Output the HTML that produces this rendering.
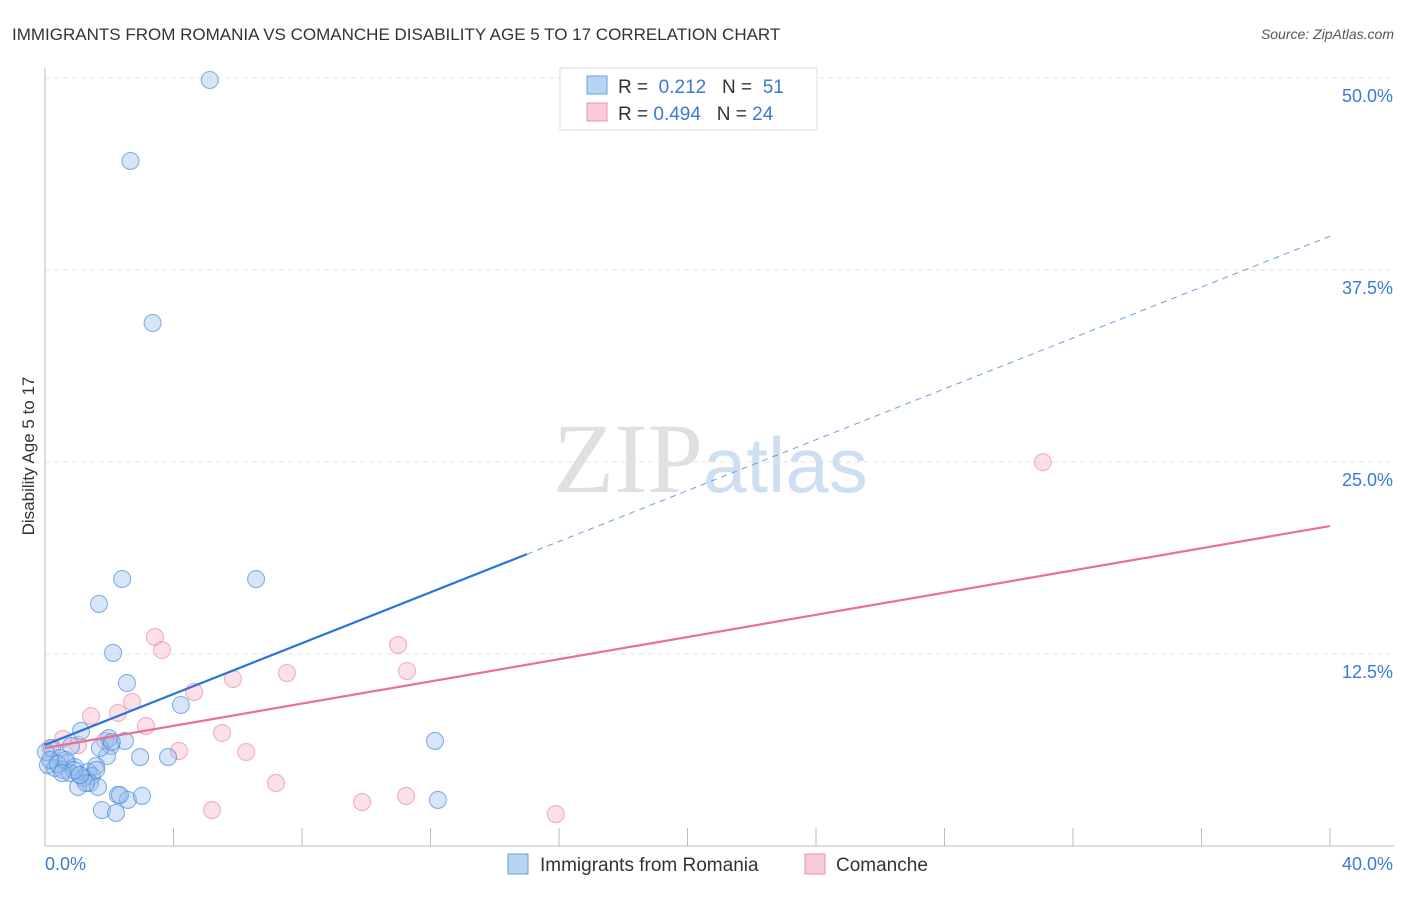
<!DOCTYPE html>
<html><head><meta charset="utf-8"><style>
body{margin:0;background:#fff;font-family:"Liberation Sans",sans-serif;}
</style></head><body>
<svg id="chart" width="1406" height="892" xmlns="http://www.w3.org/2000/svg" font-family="Liberation Sans, sans-serif">
<text x="12" y="40" font-size="17" fill="#333">IMMIGRANTS FROM ROMANIA VS COMANCHE DISABILITY AGE 5 TO 17 CORRELATION CHART</text>
<text x="1394" y="39" font-size="14" font-style="italic" fill="#555" text-anchor="end">Source: ZipAtlas.com</text>
<text x="553" y="492" font-size="100" font-family="Liberation Serif, serif" fill="#e0e0e0">ZIP<tspan fill="#cfdff2" font-family="Liberation Sans, sans-serif" font-size="78">atlas</tspan></text>
<text transform="translate(34,456) rotate(-90)" font-size="17" fill="#333" text-anchor="middle">Disability Age 5 to 17</text>
<g id="grid"></g><g id="marks"></g>
<g>
<rect x="560" y="68" width="257" height="62" fill="#fff" stroke="#ddd"/>
<rect x="587" y="76" width="20" height="18" fill="#b8d4f5" stroke="#6a9fe0"/>
<rect x="587" y="103" width="20" height="18" fill="#f9cbd8" stroke="#e891ab"/>
<text x="618" y="93" font-size="19" fill="#333">R = <tspan fill="#3b78d8">&#160;0.212</tspan>&#160;&#160;&#160;N = <tspan fill="#3b78d8">&#160;51</tspan></text>
<text x="618" y="120" font-size="19" fill="#333">R = <tspan fill="#3b78d8">0.494</tspan>&#160;&#160;&#160;N = <tspan fill="#3b78d8">24</tspan></text>
</g>
<g>
<rect x="508" y="854" width="20" height="20" fill="#b8d4f5" stroke="#6a9fe0"/>
<text x="540" y="871" font-size="19" fill="#333">Immigrants from Romania</text>
<rect x="805" y="854" width="20" height="20" fill="#f9cbd8" stroke="#e891ab"/>
<text x="836" y="871" font-size="19" fill="#333">Comanche</text>
</g>
</svg>
<script>
const yTicks=[12.5,25,37.5,50];
const yTickLabels=["12.5%","25.0%","37.5%","50.0%"];
const xTickLabels=["0.0%","40.0%"];
const blueX=[5.13,2.66,3.35,2.40,6.57,1.68,2.12,2.55,4.23,12.14,1.12,1.99,2.49,2.05,1.93,2.96,3.83,1.59,0.81,0.22,0.47,0.68,0.09,0.31,0.56,0.93,1.34,1.46,0.78,1.18,1.59,1.40,1.03,1.65,1.28,2.27,2.58,3.02,2.33,1.77,2.21,12.23,0.03,0.16,0.40,0.65,0.90,1.09,1.71,2.08,0.53];
const blueY=[49.87,44.6,34.05,17.38,17.38,15.76,12.57,10.61,9.18,6.84,7.49,7.03,6.84,6.51,5.86,5.79,5.79,5.21,6.51,6.38,5.73,5.40,5.27,5.08,4.95,5.14,4.82,4.56,4.75,4.43,4.95,4.10,3.84,3.84,4.10,3.32,3.0,3.26,3.32,2.34,2.15,3.0,6.12,5.60,5.34,5.60,4.95,4.62,6.38,6.77,4.75];
const pinkX=[31.06,10.99,3.42,3.64,11.27,7.53,5.85,4.64,2.71,1.43,2.27,3.14,5.51,0.56,1.87,1.03,4.17,6.26,7.19,11.24,9.87,5.20,15.90,0.16];
const pinkY=[24.99,13.09,13.61,12.76,11.39,11.26,10.87,10.03,9.38,8.46,8.66,7.81,7.36,6.97,6.84,6.58,6.19,6.12,4.10,3.26,2.86,2.34,2.08,6.38];
const blueLine=[6.58,39.7], pinkLine=[6.38,20.83], blueSolidEnd=15.0;
const X=v=>45+v/40*1285, Y=v=>846-v/50*768;
const NS="http://www.w3.org/2000/svg";
function mk(t,a,p){const e=document.createElementNS(NS,t);for(const k in a)e.setAttribute(k,a[k]);p.appendChild(e);return e;}
const g=document.getElementById('grid'), m=document.getElementById('marks');
yTicks.forEach((t,i)=>{
 const l=mk('line',{x1:45,x2:1394,y1:Y(t),y2:Y(t),stroke:'#e3e3e3','stroke-dasharray':'5,4'},g);
 
 
 const tx=mk('text',{x:1393,y:Y(t)+24,'font-size':18,fill:'#3b78d8','text-anchor':'end'},g);tx.textContent=yTickLabels[i];
 
 
});
const ax=mk('line',{x1:45,x2:45,y1:68,y2:846,stroke:'#bbb'},g);


const bx=mk('line',{x1:45,x2:1394,y1:846,y2:846,stroke:'#bbb'},g);


for(let i=1;i<=10;i++){const t=mk('line',{x1:X(i*4),x2:X(i*4),y1:828,y2:846,stroke:'#bbb'},g);
 
 }
[[0,'start',45],[40,'end',1393]].forEach((d,i)=>{const tx=mk('text',{x:d[2],y:870,'font-size':18,fill:'#3b78d8','text-anchor':d[1]},g);tx.textContent=xTickLabels[i];
 
 });
pinkX.forEach((x,i)=>{const c=mk('circle',{cx:X(x),cy:Y(pinkY[i]),r:8.5,fill:'rgba(246,178,198,0.4)',stroke:'rgba(232,130,160,0.6)','stroke-width':1.1},m);
 
 });
blueX.forEach((x,i)=>{const c=mk('circle',{cx:X(x),cy:Y(blueY[i]),r:8.5,fill:'rgba(150,190,235,0.38)',stroke:'rgba(60,130,220,0.6)','stroke-width':1.1},m);
 
 });
const by=x=>blueLine[0]+(blueLine[1]-blueLine[0])*x/40;
const b1=mk('line',{x1:X(0),y1:Y(by(0)),x2:X(blueSolidEnd),y2:Y(by(blueSolidEnd)),stroke:'#2a74d8','stroke-width':2.2},m);


const b2=mk('line',{x1:X(blueSolidEnd),y1:Y(by(blueSolidEnd)),x2:X(40),y2:Y(by(40)),stroke:'#6a9fe0','stroke-width':1,'stroke-dasharray':'6,5'},m);


const p1=mk('line',{x1:X(0),y1:Y(pinkLine[0]),x2:X(40),y2:Y(pinkLine[1]),stroke:'#e8709a','stroke-width':2.2},m);


</script>
</body></html>
